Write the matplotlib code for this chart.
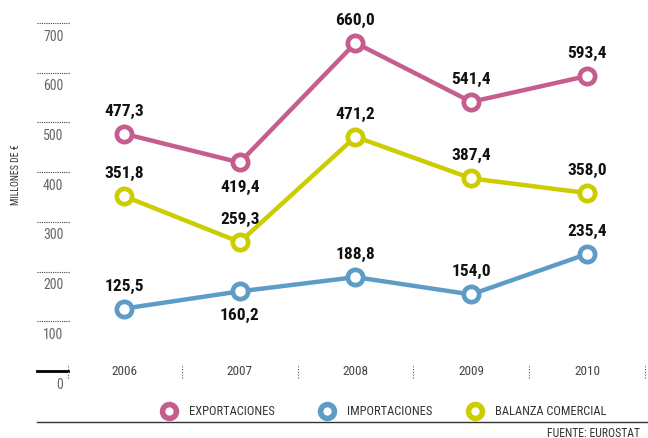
import numpy as np
import matplotlib
matplotlib.use('Agg')
import matplotlib.pyplot as plt
import matplotlib.transforms as mtransforms
from matplotlib import font_manager

nombres = {f.name for f in font_manager.fontManager.ttflist}
familia = [f for f in ['Liberation Sans Narrow', 'DejaVu Sans Condensed', 'Roboto Condensed']
           if f in nombres] + ['DejaVu Sans']
plt.rcParams['font.family'] = familia

years = ['2006', '2007', '2008', '2009', '2010']
exportaciones = [477.3, 419.4, 660.0, 541.4, 593.4]
importaciones = [125.5, 160.2, 188.8, 154.0, 235.4]
balanza = [351.8, 259.3, 471.2, 387.4, 358.0]
yticks = [0, 100, 200, 300, 400, 500, 600, 700]

# posicion de las etiquetas: arriba (+) o abajo (-)
pos_exp = [1, -1, 1, 1, 1]
pos_imp = [1, -1, 1, 1, 1]
pos_bal = [1, 1, 1, 1, 1]

c_exp = '#c55d8f'
c_imp = '#5e9cc8'
c_bal = '#cccc00'

W, H = 648, 439
fig = plt.figure(figsize=(W / 100, H / 100), dpi=100)

# eje principal
y0 = 372
ppu = 348 / 700
ymax = (y0 - 4) / ppu
ax = fig.add_axes([37 / W, (H - y0) / H, 611 / W, (y0 - 4) / H])
x = np.arange(len(years))
ax.set_xlim((37 - 124) / 115.75, (648 - 124) / 115.75)
ax.set_ylim(0, ymax)
for s in ax.spines.values():
    s.set_visible(False)
ax.set_xticks([])
ax.set_yticks([])

def serie(vals, col, pos):
    ax.plot(x, vals, color=col, lw=3.2, marker='o', ms=11, mfc='white',
            mec=col, mew=3.4, solid_capstyle='round', zorder=3, clip_on=False)
    for xi, v, p in zip(x, vals, pos):
        ax.annotate(f'{v:.1f}'.replace('.', ','), (xi, v), xytext=(0, 17 * p),
                    textcoords='offset points', ha='center', va='center',
                    fontsize=12.5, fontweight='bold', color='#111111')

serie(exportaciones, c_exp, pos_exp)
serie(balanza, c_bal, pos_bal)
serie(importaciones, c_imp, pos_imp)

# ticks del eje y: lineas punteadas y etiquetas debajo
trans = mtransforms.blended_transform_factory(ax.transAxes, ax.transData)
for t in yticks:
    if t == 0:
        ax.plot([0, 0.05], [t, t], color='black', lw=2, transform=trans, clip_on=False)
    else:
        ax.plot([0, 0.054], [t, t], color='#444444', lw=0.8, ls=(0, (1, 1)),
                transform=trans, clip_on=False)
    ax.annotate(str(t), (0.043, t), xycoords=trans, xytext=(0, -4),
                textcoords='offset points', ha='right', va='top',
                fontsize=10, color='#666666')

# años y separadores
for xi, yr in zip(x, years):
    ax.text(xi, 0, yr, ha='center', va='center', fontsize=9.5, color='#444444')
for xs in list(x + 0.5) + [(68 - 124) / 115.75]:
    ax.plot([xs, xs], [-14, 14], color='#555555', lw=0.8, ls=(0, (1, 1.5)),
            clip_on=False)

# capa de pie en pixeles
fx = fig.add_axes([0, 0, 1, 1], zorder=-1)
fx.set_xlim(0, W)
fx.set_ylim(H, 0)
fx.axis('off')
fx.text(16, 175, 'MILLONES DE €', rotation=90, ha='center', va='center',
        fontsize=7, color='#333333')

leg = [(169, c_exp, 'EXPORTACIONES'), (327, c_imp, 'IMPORTACIONES'),
       (475, c_bal, 'BALANZA COMERCIAL')]
for lx, col, lab in leg:
    fx.plot(lx, 412, marker='o', ms=10, mfc='white', mec=col, mew=4)
    fx.text(lx + 20, 412, lab, ha='left', va='center', fontsize=9,
            color='#333333')
fx.plot([37, 648], [423, 423], color='#333333', lw=1)
fx.text(640, 434, 'FUENTE: EUROSTAT', ha='right', va='center', fontsize=8.5,
        color='#333333')

fig.savefig('out.png', dpi=100)
